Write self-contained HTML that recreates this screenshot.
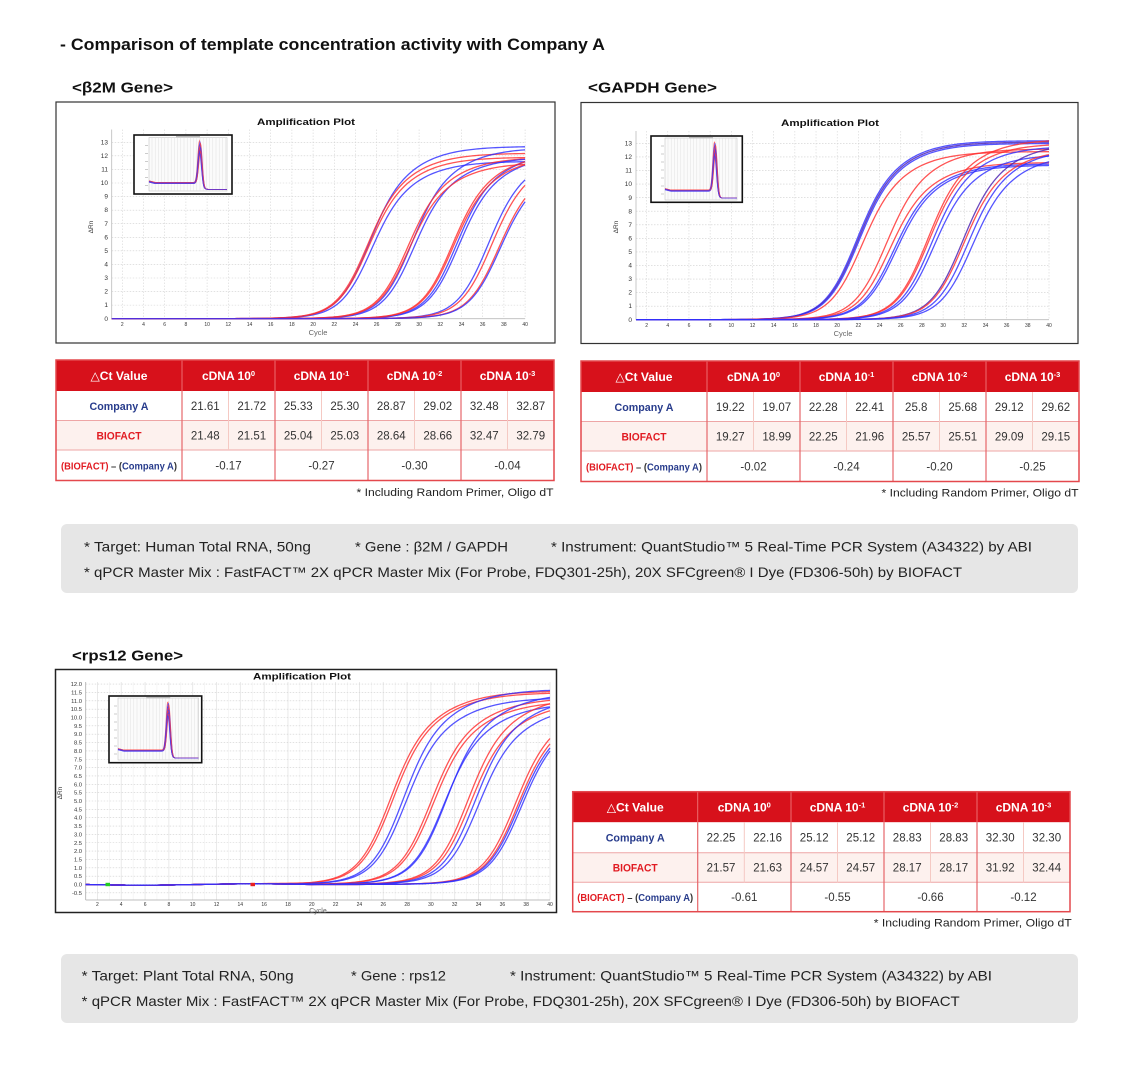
<!DOCTYPE html>
<html>
<head>
<meta charset="utf-8">
<style>
html,body{margin:0;padding:0;background:#fff;}
svg{display:block;}
</style>
</head>
<body>
<svg id="s" xmlns="http://www.w3.org/2000/svg" width="1134" height="1077" viewBox="0 0 1134 1077" font-family="'Liberation Sans', 'DejaVu Sans', sans-serif">
<rect x="0" y="0" width="1134" height="1077" fill="#fff"/>

<!-- Titles -->
<text x="60" y="50" font-size="17" font-weight="bold" fill="#111" textLength="545" lengthAdjust="spacingAndGlyphs">- Comparison of template concentration activity with Company A</text>
<text x="72" y="92.5" font-size="15" font-weight="bold" fill="#111" textLength="101" lengthAdjust="spacingAndGlyphs">&lt;β2M Gene&gt;</text>
<text x="588" y="92.5" font-size="15" font-weight="bold" fill="#111" textLength="129" lengthAdjust="spacingAndGlyphs">&lt;GAPDH Gene&gt;</text>
<text x="72" y="660.5" font-size="15" font-weight="bold" fill="#111" textLength="111" lengthAdjust="spacingAndGlyphs">&lt;rps12 Gene&gt;</text>

<!-- Chart 1 frame -->
<rect x="56" y="102" width="499" height="241" fill="#fff" stroke="#333" stroke-width="1.2"/>
<g id="c1grid"></g>
<line x1="111.7" y1="129.5" x2="111.7" y2="318.7" stroke="#bbb" stroke-width="0.8"/>
<line x1="111.7" y1="318.7" x2="525.1" y2="318.7" stroke="#bbb" stroke-width="0.8"/>
<g id="c1cur"></g>
<g id="c1ins"></g>
<text x="306" y="125" font-size="9.5" font-weight="bold" text-anchor="middle" fill="#111" textLength="98" lengthAdjust="spacingAndGlyphs">Amplification Plot</text>
<g font-size="6.5" fill="#333" text-anchor="end">
<text x="108" y="320.8">0</text><text x="108" y="307.2">1</text><text x="108" y="293.7">2</text><text x="108" y="280.1">3</text><text x="108" y="266.5">4</text><text x="108" y="253">5</text><text x="108" y="239.4">6</text><text x="108" y="225.8">7</text><text x="108" y="212.2">8</text><text x="108" y="198.7">9</text><text x="108" y="185.1">10</text><text x="108" y="171.5">11</text><text x="108" y="158">12</text><text x="108" y="144.4">13</text>
</g>
<g font-size="5" fill="#333" text-anchor="middle">
<text x="122.3" y="326">2</text><text x="143.5" y="326">4</text><text x="164.7" y="326">6</text><text x="185.9" y="326">8</text><text x="207.1" y="326">10</text><text x="228.3" y="326">12</text><text x="249.5" y="326">14</text><text x="270.7" y="326">16</text><text x="291.9" y="326">18</text><text x="313.1" y="326">20</text><text x="334.3" y="326">22</text><text x="355.5" y="326">24</text><text x="376.7" y="326">26</text><text x="397.9" y="326">28</text><text x="419.1" y="326">30</text><text x="440.3" y="326">32</text><text x="461.5" y="326">34</text><text x="482.7" y="326">36</text><text x="503.9" y="326">38</text><text x="525.1" y="326">40</text>
</g>
<text x="318" y="335" font-size="7.5" fill="#666" text-anchor="middle">Cycle</text>
<text x="0" y="0" font-size="6.5" fill="#333" text-anchor="middle" transform="translate(93,227) rotate(-90)">ΔRn</text>

<!-- Chart 2 frame -->
<rect x="581" y="102.5" width="497" height="241" fill="#fff" stroke="#333" stroke-width="1.2"/>
<g id="c2grid"></g>
<line x1="636" y1="131" x2="636" y2="319.7" stroke="#bbb" stroke-width="0.8"/>
<line x1="636" y1="319.7" x2="1049" y2="319.7" stroke="#bbb" stroke-width="0.8"/>
<g id="c2cur"></g>
<g id="c2ins"></g>
<text x="830" y="126" font-size="9.5" font-weight="bold" text-anchor="middle" fill="#111" textLength="98" lengthAdjust="spacingAndGlyphs">Amplification Plot</text>
<g font-size="6.5" fill="#333" text-anchor="end">
<text x="632" y="321.8">0</text><text x="632" y="308.2">1</text><text x="632" y="294.7">2</text><text x="632" y="281.1">3</text><text x="632" y="267.6">4</text><text x="632" y="254">5</text><text x="632" y="240.4">6</text><text x="632" y="226.9">7</text><text x="632" y="213.3">8</text><text x="632" y="199.8">9</text><text x="632" y="186.2">10</text><text x="632" y="172.6">11</text><text x="632" y="159.1">12</text><text x="632" y="145.5">13</text>
</g>
<g font-size="5" fill="#333" text-anchor="middle">
<text x="646.6" y="327">2</text><text x="667.8" y="327">4</text><text x="689" y="327">6</text><text x="710.1" y="327">8</text><text x="731.3" y="327">10</text><text x="752.5" y="327">12</text><text x="773.7" y="327">14</text><text x="794.9" y="327">16</text><text x="816" y="327">18</text><text x="837.2" y="327">20</text><text x="858.4" y="327">22</text><text x="879.6" y="327">24</text><text x="900.8" y="327">26</text><text x="921.9" y="327">28</text><text x="943.1" y="327">30</text><text x="964.3" y="327">32</text><text x="985.5" y="327">34</text><text x="1006.7" y="327">36</text><text x="1027.8" y="327">38</text><text x="1049" y="327">40</text>
</g>
<text x="843" y="336" font-size="7.5" fill="#666" text-anchor="middle">Cycle</text>
<text x="0" y="0" font-size="6.5" fill="#333" text-anchor="middle" transform="translate(618,227) rotate(-90)">ΔRn</text>

<!-- Chart 3 frame -->
<rect x="55.5" y="669.5" width="501" height="243" fill="#fff" stroke="#222" stroke-width="1.5"/>
<g id="c3grid"></g>
<line x1="85.7" y1="682" x2="85.7" y2="900" stroke="#aaa" stroke-width="0.8"/>
<line x1="85.7" y1="900" x2="550" y2="900" stroke="#aaa" stroke-width="0.8"/>
<g id="c3cur"></g>
<g id="c3ins"></g>
<text x="302" y="679.5" font-size="9" font-weight="bold" text-anchor="middle" fill="#111" textLength="98" lengthAdjust="spacingAndGlyphs">Amplification Plot</text>
<g font-size="5.8" fill="#333" text-anchor="end">
<text x="82" y="894.9">-0.5</text><text x="82" y="886.5">0.0</text><text x="82" y="878.2">0.5</text><text x="82" y="869.8">1.0</text><text x="82" y="861.5">1.5</text><text x="82" y="853.1">2.0</text><text x="82" y="844.8">2.5</text><text x="82" y="836.4">3.0</text><text x="82" y="828.1">3.5</text><text x="82" y="819.7">4.0</text><text x="82" y="811.4">4.5</text><text x="82" y="803">5.0</text><text x="82" y="794.7">5.5</text><text x="82" y="786.3">6.0</text><text x="82" y="778">6.5</text><text x="82" y="769.6">7.0</text><text x="82" y="761.3">7.5</text><text x="82" y="752.9">8.0</text><text x="82" y="744.6">8.5</text><text x="82" y="736.2">9.0</text><text x="82" y="727.9">9.5</text><text x="82" y="719.5">10.0</text><text x="82" y="711.2">10.5</text><text x="82" y="702.8">11.0</text><text x="82" y="694.5">11.5</text><text x="82" y="686.1">12.0</text>
</g>
<g font-size="5" fill="#333" text-anchor="middle">
<text x="97.4" y="906">2</text><text x="121.2" y="906">4</text><text x="145.1" y="906">6</text><text x="168.9" y="906">8</text><text x="192.7" y="906">10</text><text x="216.5" y="906">12</text><text x="240.3" y="906">14</text><text x="264.2" y="906">16</text><text x="288" y="906">18</text><text x="311.8" y="906">20</text><text x="335.6" y="906">22</text><text x="359.4" y="906">24</text><text x="383.3" y="906">26</text><text x="407.1" y="906">28</text><text x="430.9" y="906">30</text><text x="454.7" y="906">32</text><text x="478.5" y="906">34</text><text x="502.4" y="906">36</text><text x="526.2" y="906">38</text><text x="550" y="906">40</text>
</g>
<text x="318" y="913" font-size="7" fill="#666" text-anchor="middle">Cycle</text>
<text x="0" y="0" font-size="6.5" fill="#333" text-anchor="middle" transform="translate(62,793) rotate(-90)">ΔRn</text>
<rect x="105.5" y="882.8" width="4.5" height="3.4" fill="#22cc22"/>
<rect x="250.5" y="882.8" width="4.5" height="3.4" fill="#e82020"/>

<!-- Table 1 -->
<g transform="translate(56,360)">
<rect x="0" y="0" width="498" height="31" fill="#d7111b"/>
<rect x="0" y="31" width="498" height="29.5" fill="#fff"/>
<rect x="0" y="60.5" width="498" height="29.5" fill="#fdf1ee"/>
<rect x="0" y="90" width="498" height="30.5" fill="#fff"/>
<g stroke="#ec6d70" stroke-width="1"><line x1="126" y1="0" x2="126" y2="31"/><line x1="219" y1="0" x2="219" y2="31"/><line x1="312" y1="0" x2="312" y2="31"/><line x1="405" y1="0" x2="405" y2="31"/></g>
<g stroke="#eea6a6" stroke-width="1"><line x1="0" y1="60.5" x2="498" y2="60.5"/><line x1="0" y1="90" x2="498" y2="90"/></g>
<g stroke="#f5c9c3" stroke-width="1"><line x1="172.5" y1="31" x2="172.5" y2="90"/><line x1="265.5" y1="31" x2="265.5" y2="90"/><line x1="358.5" y1="31" x2="358.5" y2="90"/><line x1="451.5" y1="31" x2="451.5" y2="90"/></g>
<g stroke="#e6666a" stroke-width="1.2"><line x1="126" y1="31" x2="126" y2="120.5"/><line x1="219" y1="31" x2="219" y2="120.5"/><line x1="312" y1="31" x2="312" y2="120.5"/><line x1="405" y1="31" x2="405" y2="120.5"/></g>
<rect x="0" y="0" width="498" height="120.5" fill="none" stroke="#e4484d" stroke-width="1.5"/>
<g fill="#fff" font-weight="bold" font-size="12" text-anchor="middle">
<text x="63" y="20" textLength="57" lengthAdjust="spacingAndGlyphs">△Ct Value</text>
<text x="172.5" y="20">cDNA 10<tspan dy="-4" font-size="7.5">0</tspan></text>
<text x="265.5" y="20">cDNA 10<tspan dy="-4" font-size="7.5">-1</tspan></text>
<text x="358.5" y="20">cDNA 10<tspan dy="-4" font-size="7.5">-2</tspan></text>
<text x="451.5" y="20">cDNA 10<tspan dy="-4" font-size="7.5">-3</tspan></text>
</g>
<text x="63" y="50" font-size="11" font-weight="bold" fill="#283c8c" text-anchor="middle" textLength="59" lengthAdjust="spacingAndGlyphs">Company A</text>
<text x="63" y="79.5" font-size="11" font-weight="bold" fill="#e11b22" text-anchor="middle" textLength="45" lengthAdjust="spacingAndGlyphs">BIOFACT</text>
<text x="63" y="109.5" font-size="10" font-weight="bold" text-anchor="middle" textLength="116" lengthAdjust="spacingAndGlyphs"><tspan fill="#e11b22">(BIOFACT)</tspan><tspan fill="#333"> – (</tspan><tspan fill="#283c8c">Company A</tspan><tspan fill="#333">)</tspan></text>
<g font-size="11.5" fill="#333" text-anchor="middle">
<text x="149.25" y="50">21.61</text><text x="195.75" y="50">21.72</text><text x="242.25" y="50">25.33</text><text x="288.75" y="50">25.30</text><text x="335.25" y="50">28.87</text><text x="381.75" y="50">29.02</text><text x="428.25" y="50">32.48</text><text x="474.75" y="50">32.87</text>
<text x="149.25" y="79.5">21.48</text><text x="195.75" y="79.5">21.51</text><text x="242.25" y="79.5">25.04</text><text x="288.75" y="79.5">25.03</text><text x="335.25" y="79.5">28.64</text><text x="381.75" y="79.5">28.66</text><text x="428.25" y="79.5">32.47</text><text x="474.75" y="79.5">32.79</text>
<text x="172.5" y="109.5">-0.17</text><text x="265.5" y="109.5">-0.27</text><text x="358.5" y="109.5">-0.30</text><text x="451.5" y="109.5">-0.04</text>
</g>
<text x="497.5" y="136" font-size="11" fill="#222" text-anchor="end" textLength="197" lengthAdjust="spacingAndGlyphs">* Including Random Primer, Oligo dT</text>
</g>

<!-- Table 2 -->
<g transform="translate(581,361)">
<rect x="0" y="0" width="498" height="31" fill="#d7111b"/>
<rect x="0" y="31" width="498" height="29.5" fill="#fff"/>
<rect x="0" y="60.5" width="498" height="29.5" fill="#fdf1ee"/>
<rect x="0" y="90" width="498" height="30.5" fill="#fff"/>
<g stroke="#ec6d70" stroke-width="1"><line x1="126" y1="0" x2="126" y2="31"/><line x1="219" y1="0" x2="219" y2="31"/><line x1="312" y1="0" x2="312" y2="31"/><line x1="405" y1="0" x2="405" y2="31"/></g>
<g stroke="#eea6a6" stroke-width="1"><line x1="0" y1="60.5" x2="498" y2="60.5"/><line x1="0" y1="90" x2="498" y2="90"/></g>
<g stroke="#f5c9c3" stroke-width="1"><line x1="172.5" y1="31" x2="172.5" y2="90"/><line x1="265.5" y1="31" x2="265.5" y2="90"/><line x1="358.5" y1="31" x2="358.5" y2="90"/><line x1="451.5" y1="31" x2="451.5" y2="90"/></g>
<g stroke="#e6666a" stroke-width="1.2"><line x1="126" y1="31" x2="126" y2="120.5"/><line x1="219" y1="31" x2="219" y2="120.5"/><line x1="312" y1="31" x2="312" y2="120.5"/><line x1="405" y1="31" x2="405" y2="120.5"/></g>
<rect x="0" y="0" width="498" height="120.5" fill="none" stroke="#e4484d" stroke-width="1.5"/>
<g fill="#fff" font-weight="bold" font-size="12" text-anchor="middle">
<text x="63" y="20" textLength="57" lengthAdjust="spacingAndGlyphs">△Ct Value</text>
<text x="172.5" y="20">cDNA 10<tspan dy="-4" font-size="7.5">0</tspan></text>
<text x="265.5" y="20">cDNA 10<tspan dy="-4" font-size="7.5">-1</tspan></text>
<text x="358.5" y="20">cDNA 10<tspan dy="-4" font-size="7.5">-2</tspan></text>
<text x="451.5" y="20">cDNA 10<tspan dy="-4" font-size="7.5">-3</tspan></text>
</g>
<text x="63" y="50" font-size="11" font-weight="bold" fill="#283c8c" text-anchor="middle" textLength="59" lengthAdjust="spacingAndGlyphs">Company A</text>
<text x="63" y="79.5" font-size="11" font-weight="bold" fill="#e11b22" text-anchor="middle" textLength="45" lengthAdjust="spacingAndGlyphs">BIOFACT</text>
<text x="63" y="109.5" font-size="10" font-weight="bold" text-anchor="middle" textLength="116" lengthAdjust="spacingAndGlyphs"><tspan fill="#e11b22">(BIOFACT)</tspan><tspan fill="#333"> – (</tspan><tspan fill="#283c8c">Company A</tspan><tspan fill="#333">)</tspan></text>
<g font-size="11.5" fill="#333" text-anchor="middle">
<text x="149.25" y="50">19.22</text><text x="195.75" y="50">19.07</text><text x="242.25" y="50">22.28</text><text x="288.75" y="50">22.41</text><text x="335.25" y="50">25.8</text><text x="381.75" y="50">25.68</text><text x="428.25" y="50">29.12</text><text x="474.75" y="50">29.62</text>
<text x="149.25" y="79.5">19.27</text><text x="195.75" y="79.5">18.99</text><text x="242.25" y="79.5">22.25</text><text x="288.75" y="79.5">21.96</text><text x="335.25" y="79.5">25.57</text><text x="381.75" y="79.5">25.51</text><text x="428.25" y="79.5">29.09</text><text x="474.75" y="79.5">29.15</text>
<text x="172.5" y="109.5">-0.02</text><text x="265.5" y="109.5">-0.24</text><text x="358.5" y="109.5">-0.20</text><text x="451.5" y="109.5">-0.25</text>
</g>
<text x="497.5" y="135.5" font-size="11" fill="#222" text-anchor="end" textLength="197" lengthAdjust="spacingAndGlyphs">* Including Random Primer, Oligo dT</text>
</g>

<!-- Notes box 1 -->
<rect x="61" y="524" width="1017" height="69" rx="6" ry="6" fill="#e6e6e6"/>
<g font-size="14" fill="#222">
<text x="84" y="551.5" textLength="227" lengthAdjust="spacingAndGlyphs">* Target: Human Total RNA, 50ng</text>
<text x="355" y="551.5" textLength="153" lengthAdjust="spacingAndGlyphs">* Gene : β2M / GAPDH</text>
<text x="551" y="551.5" textLength="481" lengthAdjust="spacingAndGlyphs">* Instrument: QuantStudio™ 5 Real-Time PCR System (A34322) by ABI</text>
<text x="84" y="577" textLength="878" lengthAdjust="spacingAndGlyphs">* qPCR Master Mix : FastFACT™ 2X qPCR Master Mix (For Probe, FDQ301-25h), 20X SFCgreen® I Dye (FD306-50h) by BIOFACT</text>
</g>

<!-- Table 3 -->
<g transform="translate(572.7,791.7)">
<rect x="0" y="0" width="497.3" height="30.6" fill="#d7111b"/>
<rect x="0" y="30.6" width="497.3" height="30.4" fill="#fff"/>
<rect x="0" y="61" width="497.3" height="29.6" fill="#fdf1ee"/>
<rect x="0" y="90.6" width="497.3" height="29.4" fill="#fff"/>
<g stroke="#ec6d70" stroke-width="1"><line x1="125" y1="0" x2="125" y2="30.6"/><line x1="218.3" y1="0" x2="218.3" y2="30.6"/><line x1="311.3" y1="0" x2="311.3" y2="30.6"/><line x1="404.3" y1="0" x2="404.3" y2="30.6"/></g>
<g stroke="#eea6a6" stroke-width="1"><line x1="0" y1="61" x2="497.3" y2="61"/><line x1="0" y1="90.6" x2="497.3" y2="90.6"/></g>
<g stroke="#f5c9c3" stroke-width="1"><line x1="171.6" y1="30.6" x2="171.6" y2="90.6"/><line x1="264.8" y1="30.6" x2="264.8" y2="90.6"/><line x1="357.8" y1="30.6" x2="357.8" y2="90.6"/><line x1="450.8" y1="30.6" x2="450.8" y2="90.6"/></g>
<g stroke="#e6666a" stroke-width="1.2"><line x1="125" y1="30.6" x2="125" y2="120"/><line x1="218.3" y1="30.6" x2="218.3" y2="120"/><line x1="311.3" y1="30.6" x2="311.3" y2="120"/><line x1="404.3" y1="30.6" x2="404.3" y2="120"/></g>
<rect x="0" y="0" width="497.3" height="120" fill="none" stroke="#e4484d" stroke-width="1.5"/>
<g fill="#fff" font-weight="bold" font-size="12" text-anchor="middle">
<text x="62.5" y="20" textLength="57" lengthAdjust="spacingAndGlyphs">△Ct Value</text>
<text x="171.6" y="20">cDNA 10<tspan dy="-4" font-size="7.5">0</tspan></text>
<text x="264.8" y="20">cDNA 10<tspan dy="-4" font-size="7.5">-1</tspan></text>
<text x="357.8" y="20">cDNA 10<tspan dy="-4" font-size="7.5">-2</tspan></text>
<text x="450.8" y="20">cDNA 10<tspan dy="-4" font-size="7.5">-3</tspan></text>
</g>
<text x="62.5" y="50" font-size="11" font-weight="bold" fill="#283c8c" text-anchor="middle" textLength="59" lengthAdjust="spacingAndGlyphs">Company A</text>
<text x="62.5" y="79.8" font-size="11" font-weight="bold" fill="#e11b22" text-anchor="middle" textLength="45" lengthAdjust="spacingAndGlyphs">BIOFACT</text>
<text x="62.5" y="109.3" font-size="10" font-weight="bold" text-anchor="middle" textLength="116" lengthAdjust="spacingAndGlyphs"><tspan fill="#e11b22">(BIOFACT)</tspan><tspan fill="#333"> – (</tspan><tspan fill="#283c8c">Company A</tspan><tspan fill="#333">)</tspan></text>
<g font-size="11.5" fill="#333" text-anchor="middle">
<text x="148.3" y="50">22.25</text><text x="194.9" y="50">22.16</text><text x="241.5" y="50">25.12</text><text x="288" y="50">25.12</text><text x="334.5" y="50">28.83</text><text x="381" y="50">28.83</text><text x="427.5" y="50">32.30</text><text x="474" y="50">32.30</text>
<text x="148.3" y="79.8">21.57</text><text x="194.9" y="79.8">21.63</text><text x="241.5" y="79.8">24.57</text><text x="288" y="79.8">24.57</text><text x="334.5" y="79.8">28.17</text><text x="381" y="79.8">28.17</text><text x="427.5" y="79.8">31.92</text><text x="474" y="79.8">32.44</text>
<text x="171.6" y="109.3">-0.61</text><text x="264.8" y="109.3">-0.55</text><text x="357.8" y="109.3">-0.66</text><text x="450.8" y="109.3">-0.12</text>
</g>
<text x="499" y="135" font-size="11" fill="#222" text-anchor="end" textLength="198" lengthAdjust="spacingAndGlyphs">* Including Random Primer, Oligo dT</text>
</g>

<!-- Notes box 2 -->
<rect x="61" y="954" width="1017" height="69" rx="6" ry="6" fill="#e6e6e6"/>
<g font-size="14" fill="#222">
<text x="81.7" y="980.5" textLength="212" lengthAdjust="spacingAndGlyphs">* Target: Plant Total RNA, 50ng</text>
<text x="351" y="980.5" textLength="95" lengthAdjust="spacingAndGlyphs">* Gene : rps12</text>
<text x="510" y="980.5" textLength="482" lengthAdjust="spacingAndGlyphs">* Instrument: QuantStudio™ 5 Real-Time PCR System (A34322) by ABI</text>
<text x="81.7" y="1006" textLength="878" lengthAdjust="spacingAndGlyphs">* qPCR Master Mix : FastFACT™ 2X qPCR Master Mix (For Probe, FDQ301-25h), 20X SFCgreen® I Dye (FD306-50h) by BIOFACT</text>
</g>
</svg>

<script>
(function(){
var NS='http://www.w3.org/2000/svg';
function el(p,tag,a){var e=document.createElementNS(NS,tag);for(var k in a)e.setAttribute(k,a[k]);p.appendChild(e);return e;}
function L(z){return 1/(1+Math.exp(-z));}
function val(c,m,A,s){return A*(0.72*L((c-m)/s)+0.28*L((c-m-3)/2.5));}
var COL={r:'#ff2e2e',b:'#2e2eff',p:'#4a1fb0'};

var charts=[
 {id:'c1',X:function(c){return 111.7+(c-1)*10.6;},Y:function(v){return 318.7-13.57*v;},top:129.5,bot:318.7,left:111.7,right:525.1,
  hv:[1,2,3,4,5,6,7,8,9,10,11,12,13],solidV:false,s:1.4,
  curves:[[25.2,12.7,'b'],[25.0,12.2,'r'],[25.4,11.6,'b'],[25.1,11.9,'r'],
          [29.2,12.6,'b'],[28.8,11.9,'r'],[29.4,11.9,'b'],[28.9,11.5,'r'],
          [33.4,12.3,'b'],[33.0,12.2,'r'],[33.6,12.1,'b'],[33.1,12.0,'r'],
          [36.4,12.4,'b'],[36.7,12.2,'r'],[37.4,11.8,'r'],[37.5,11.6,'b']],
  ins:[134,135,232,194,149,227,137.5,191,200]},
 {id:'c2',X:function(c){return 636+(c-1)*10.59;},Y:function(v){return 319.7-13.56*v;},top:131,bot:319.7,left:636,right:1049,
  hv:[1,2,3,4,5,6,7,8,9,10,11,12,13],solidV:false,s:1.45,
  curves:[[21.7,13.2,'b'],[21.8,13.1,'p'],[21.9,13.0,'b'],[22.2,12.4,'r'],
          [24.5,12.6,'r'],[24.8,11.6,'r'],[25.2,11.5,'b'],[25.4,11.4,'b'],
          [28.4,13.3,'r'],[28.5,13.0,'r'],[28.8,12.8,'b'],[29.0,12.2,'b'],
          [31.7,13.0,'p'],[31.8,12.6,'r'],[32.2,12.6,'b'],[32.6,12.2,'b']],
  ins:[651,136,742.3,202.3,665,737,138,200,715]},
 {id:'c3',X:function(c){return 85.5+(c-1)*11.91;},Y:function(v){return 884.5-16.7*v;},top:682,bot:900,left:85.7,right:550,
  hv:null,solidV:true,s:1.3,
  curves:[[26.5,11.6,'r'],[26.7,11.5,'r'],[27.6,11.7,'b'],[27.8,11.2,'b'],
          [29.9,11.2,'r'],[30.1,11.0,'r'],[31.0,10.9,'b'],[31.2,11.5,'b'],
          [33.0,11.4,'r'],[33.2,11.0,'r'],[33.6,11.3,'b'],[33.9,10.8,'b'],
          [37.0,11.0,'r'],[37.2,10.8,'r'],[37.3,10.6,'b'],[37.5,10.6,'b']],
  ins:[109,696,201.7,762.7,118,198.5,698,760,168.3]}
];

function inset(p,a){
 var x0=a[0],y0=a[1],x1=a[2],y1=a[3],ix0=a[4],ix1=a[5],iy0=a[6],iy1=a[7],pk=a[8];
 el(p,'rect',{x:x0,y:y0,width:x1-x0,height:y1-y0,fill:'#fff',stroke:'#111','stroke-width':1.6});
 el(p,'rect',{x:ix0,y:iy0,width:ix1-ix0,height:iy1-iy0,fill:'#fbfbfb',stroke:'#bbb','stroke-width':0.5});
 for(var x=ix0+3;x<ix1;x+=3.2) el(p,'line',{x1:x,y1:iy0,x2:x,y2:iy1,stroke:'#e0e0e0','stroke-width':0.5});
 for(var y=iy0+8;y<iy1;y+=8) el(p,'line',{x1:ix0-4,y1:y,x2:ix0-1,y2:y,stroke:'#999','stroke-width':0.5});
 el(p,'rect',{x:(ix0+ix1)/2-12,y:y0+1.2,width:24,height:1,fill:'#aaa'});
 var H=iy1-iy0;
 for(var i=0;i<10;i++){
  var bl=iy1-H*0.16+(i%4)*0.4, br=iy1-H*0.03, top=iy0+H*0.06+i*H*0.025;
  var d='';
  var off=(i%3-1)*0.5;
  for(var x=ix0;x<=ix1+0.01;x+=0.5){
   var base=bl+(br-bl)*L((x-pk-2.5)/1.2);
   if(x<ix0+6) base-=(ix0+6-x)*0.25;
   var g=Math.exp(-Math.pow((x-pk-off)/2.4,2));
   var yy=base+(top-base)*g;
   d+=(x==ix0?'M':'L')+x.toFixed(2)+' '+yy.toFixed(2);
  }
  el(p,'path',{d:d,fill:'none',stroke:i%2?'#3a3aff':'#ff3a3a','stroke-width':0.8,opacity:0.75});
 }
}

charts.forEach(function(C){
 var g=document.getElementById(C.id+'grid');
 var c;
 for(c=2;c<=40;c+=2){
  var x=C.X(c);
  if(C.solidV) el(g,'line',{x1:x,y1:C.top,x2:x,y2:C.bot,stroke:'#e4e4e4','stroke-width':0.8});
  else el(g,'line',{x1:x,y1:C.top,x2:x,y2:C.bot,stroke:'#d6d6d6','stroke-width':0.6,'stroke-dasharray':'1.5 1.5'});
 }
 if(C.solidV){
  for(c=3;c<=39;c+=2){var xx=C.X(c);el(g,'line',{x1:xx,y1:C.top,x2:xx,y2:C.bot,stroke:'#f1f1f1','stroke-width':0.6});}
 }
 var hv=C.hv;
 if(!hv){hv=[];for(var v=-0.5;v<=12.001;v+=0.5)hv.push(v);}
 hv.forEach(function(v){
  var y=C.Y(v);
  el(g,'line',{x1:C.left,y1:y,x2:C.right,y2:y,stroke:'#cfcfcf','stroke-width':0.6,'stroke-dasharray':'1.5 1.5'});
 });
 var cg=document.getElementById(C.id+'cur');
 C.curves.forEach(function(cv,idx){
  var d='';
  for(var cc=1;cc<=40.001;cc+=0.2){
   var v=val(cc,cv[0],cv[1],C.s);
   if(C.id==='c3'){v+= -0.04*Math.sin((cc-1)/3)*(cc<20?1:0);}
   d+=(cc===1?'M':'L')+C.X(cc).toFixed(2)+' '+C.Y(v).toFixed(2);
  }
  el(cg,'path',{d:d,fill:'none',stroke:COL[cv[2]],'stroke-width':1.3,opacity:0.82,'stroke-linejoin':'round'});
 });
 inset(document.getElementById(C.id+'ins'),C.ins);
});
})();
</script>
</body>
</html>
